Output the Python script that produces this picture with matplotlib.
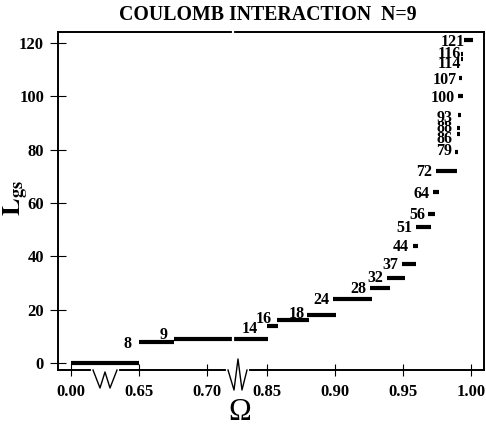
import numpy as np
import matplotlib
matplotlib.use('Agg')
import matplotlib.pyplot as plt

plt.rcParams['font.family'] = ['Liberation Serif', 'DejaVu Serif']
plt.rcParams['mathtext.fontset'] = 'stix'

# ground state angular momentum steps (start, end in Omega)
L_gs = [0, 8, 9, 14, 16, 18, 24, 28, 32, 37, 44, 51, 56, 64, 72,
        79, 86, 88, 93, 100, 107, 114, 116, 121]
w_start = [0.000, 0.647, 0.676, 0.850, 0.8574, 0.8794, 0.8985, 0.9257, 0.9382,
           0.9493, 0.9574, 0.9596, 0.9684, 0.9721, 0.9743, 0.9882, 0.9897,
           0.9897, 0.9904, 0.9904, 0.9912, 0.9926, 0.9926, 0.9949]
w_end = [0.648, 0.676, 0.8507, 0.858, 0.8809, 0.9007, 0.9272, 0.9404, 0.9515,
         0.9596, 0.9610, 0.9706, 0.9735, 0.9765, 0.9897, 0.9904, 0.9919,
         0.9919, 0.9926, 0.9941, 0.9934, 0.9941, 0.9941, 1.0015]

xtick_vals = [0.00, 0.65, 0.70, 0.85, 0.90, 0.95, 1.00]
ytick_vals = [0, 20, 40, 60, 80, 100, 120]

# label offsets in pixels (right edge, vertical centre) relative to bar start
lab_off = {8: (-7, 0), 9: (-7, 6), 14: (-9, -1), 16: (-5, 3), 18: (-2, 3),
           24: (-4, 1), 28: (-4, 1), 32: (-4, 2), 37: (-4, 1), 44: (-4, 1),
           51: (-4, 1), 56: (-3, 1), 64: (-4, 0), 72: (-4, 1), 79: (-3, 3),
           86: (-4, -3), 88: (-4, 2), 93: (-5, -1), 100: (-3, 0),
           107: (-2, 0), 114: (0, -3), 116: (0, 2), 121: (1, 0)}

# broken x axis: 0..0.65 squeezed, gap between B1 and B2 almost removed
B1, B2 = 0.7185, 0.8266
XB1 = 68 + (B1 - 0.65) * 1360
XB2 = XB1 + 3
gslope = 3 / (B2 - B1)


def fwd(w):
    w = np.asarray(w, dtype=float)
    return np.where(w <= 0.65, w / 0.65 * 68,
           np.where(w <= B1, 68 + (w - 0.65) * 1360,
           np.where(w <= B2, XB1 + (w - B1) * gslope,
                    XB2 + (w - B2) * 1360)))


def inv(u):
    u = np.asarray(u, dtype=float)
    return np.where(u <= 68, u / 68 * 0.65,
           np.where(u <= XB1, 0.65 + (u - 68) / 1360,
           np.where(u <= XB2, B1 + (u - XB1) / gslope,
                    B2 + (u - XB2) / 1360)))


fig = plt.figure(figsize=(4.86, 4.29), dpi=100)
ax = fig.add_axes([58/486, 59/429, 426/486, 338/429])
ax.set_xscale('function', functions=(fwd, inv))
ax.set_xlim(-0.124, 1.0096)
ax.set_ylim(-2.6, 124.1)

ax.hlines(L_gs, w_start, w_end, colors='black', lw=3, capstyle='butt', zorder=3)

for L, ws in zip(L_gs, w_start):
    if L == 0:
        continue
    dx, dy = lab_off[L]
    ax.annotate(str(L), xy=(ws, L), xytext=(dx, dy), textcoords='offset pixels',
                ha='right', va='center_baseline', fontsize=11.5, fontweight='bold')

ax.set_xticks(xtick_vals)
ax.set_xticklabels(['%.2f' % v for v in xtick_vals])
ax.set_yticks(ytick_vals)
ax.minorticks_off()
ax.tick_params(axis='x', direction='inout', length=8, width=0.8, pad=6,
               labelsize=12)
ax.tick_params(axis='y', direction='inout', length=12, width=0.8, pad=4,
               labelsize=12)
for lab in ax.get_xticklabels() + ax.get_yticklabels():
    lab.set_fontweight('bold')
for sp in ax.spines.values():
    sp.set_linewidth(1.4)

# axis break marks
def px(x, y):
    return ((x - 58) / 426, (370 - y) / 338)

ax.plot(*zip(px(233, 372), px(233, 31)), color='white', lw=1.6,
        transform=ax.transAxes, clip_on=False, zorder=4)
for x0, x1 in [(93, 117), (228, 247)]:
    ax.plot(*zip(px(x0, 370), px(x1, 370)), color='white', lw=3,
            transform=ax.transAxes, clip_on=False, zorder=4)
zig1 = [px(93, 370), px(100, 388), px(105, 372), px(110, 388), px(117, 370)]
zig2 = [px(228, 370), px(234, 390), px(238, 359), px(242, 390), px(247, 370)]
for z in (zig1, zig2):
    ax.plot(*zip(*z), color='black', lw=1.0, transform=ax.transAxes,
            clip_on=False, zorder=5)

fig.text(268/486, 1 - 15/429, 'COULOMB INTERACTION  N=9', ha='center',
         va='center', fontsize=14.3, fontweight='bold')
fig.text(16/486, 1 - 198/429, r'$\mathbf{L}_{\mathbf{gs}}$', rotation=90,
         ha='center', va='center', fontsize=19)
fig.text(240/486, 1 - 412/429, 'Ω', ha='center', va='center', fontsize=22)

fig.savefig('out.png', dpi=100)
